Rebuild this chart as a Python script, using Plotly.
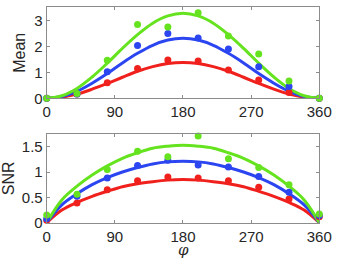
import plotly.graph_objects as go

# Measured angles (degrees)
phi_pts = [0, 40, 80, 120, 160, 200, 240, 280, 320, 360]

# Mean panel: data points
mean_red = [0.0, 0.17, 0.60, 1.15, 1.47, 1.43, 1.09, 0.70, 0.22, 0.0]
mean_blue = [0.0, 0.17, 1.02, 2.03, 2.49, 2.32, 1.90, 1.21, 0.45, 0.0]
mean_green = [0.0, 0.18, 1.46, 2.84, 2.74, 3.29, 2.40, 1.70, 0.67, 0.0]

# SNR panel: data points
snr_red = [0.05, 0.39, 0.65, 0.83, 0.90, 0.88, 0.83, 0.70, 0.47, 0.12]
snr_blue = [0.08, 0.52, 0.88, 1.13, 1.23, 1.14, 1.10, 0.91, 0.60, 0.14]
snr_green = [0.15, 0.56, 1.05, 1.41, 1.30, 1.71, 1.26, 1.09, 0.75, 0.17]

# Fitted curves
phi_fit = [0, 20, 40, 60, 80, 100, 120, 140, 160, 180, 200, 220, 240, 260, 280, 300, 320, 340, 360]
fit_mean_green = [0, 0.10, 0.38, 0.82, 1.35, 1.92, 2.45, 2.89, 3.17, 3.27, 3.17, 2.89, 2.45, 1.92, 1.35, 0.82, 0.38, 0.10, 0]
fit_mean_blue = [0, 0.07, 0.27, 0.58, 0.95, 1.36, 1.73, 2.04, 2.24, 2.31, 2.24, 2.04, 1.73, 1.36, 0.95, 0.58, 0.27, 0.07, 0]
fit_mean_red = [0, 0.04, 0.16, 0.35, 0.57, 0.81, 1.04, 1.22, 1.34, 1.38, 1.34, 1.22, 1.04, 0.81, 0.57, 0.35, 0.16, 0.04, 0]
fit_snr_green = [0, 0.45, 0.72, 0.94, 1.12, 1.27, 1.38, 1.47, 1.51, 1.53, 1.51, 1.47, 1.38, 1.27, 1.12, 0.94, 0.72, 0.45, 0]
fit_snr_blue = [0, 0.35, 0.57, 0.75, 0.89, 1.00, 1.09, 1.16, 1.20, 1.21, 1.20, 1.16, 1.09, 1.00, 0.89, 0.75, 0.57, 0.35, 0]
fit_snr_red = [0, 0.25, 0.40, 0.52, 0.62, 0.71, 0.77, 0.81, 0.84, 0.85, 0.84, 0.81, 0.77, 0.71, 0.62, 0.52, 0.40, 0.25, 0]

x_ticks = [0, 90, 180, 270, 360]

RED = "#f0201c"
BLUE = "#2b45f0"
GREEN = "#66e31f"
TXT = "#262626"
AX = "#8c8c8c"

fig = go.Figure()

panels = [
    ("x", "y", [(fit_mean_red, mean_red, RED), (fit_mean_blue, mean_blue, BLUE), (fit_mean_green, mean_green, GREEN)]),
    ("x2", "y2", [(fit_snr_red, snr_red, RED), (fit_snr_blue, snr_blue, BLUE), (fit_snr_green, snr_green, GREEN)]),
]

for xa, ya, series in panels:
    for fit, pts, col in series:
        fig.add_trace(go.Scatter(x=phi_fit, y=fit, mode="lines", line=dict(color=col, width=3, shape="spline"),
                                 xaxis=xa, yaxis=ya, showlegend=False, hoverinfo="skip", cliponaxis=False))
    for fit, pts, col in series:
        fig.add_trace(go.Scatter(x=phi_pts, y=pts, mode="markers", marker=dict(color=col, size=7),
                                 xaxis=xa, yaxis=ya, showlegend=False, cliponaxis=False))

font = dict(family="Liberation Sans, Arial, sans-serif", size=15, color=TXT)
axis_common = dict(showline=True, linecolor=AX, linewidth=1, mirror="ticks", ticks="inside",
                   ticklen=3, tickcolor=AX, showgrid=False, zeroline=False, tickfont=font,
                   automargin=False)

fig.update_layout(
    width=353, height=261,
    margin=dict(l=0, r=0, t=0, b=0),
    paper_bgcolor="white", plot_bgcolor="white",
    font=font,
    xaxis=dict(domain=[0.1323, 0.9045], range=[0, 360], tickvals=x_ticks, anchor="y", **axis_common),
    yaxis=dict(domain=[0.6234, 0.972], range=[0, 3.5], tickvals=[0, 1, 2, 3], anchor="x",
               title=dict(text="Mean", font=dict(size=16, color=TXT), standoff=4), **axis_common),
    xaxis2=dict(domain=[0.1323, 0.9045], range=[0, 360], tickvals=x_ticks, anchor="y2", **axis_common),
    yaxis2=dict(domain=[0.1467, 0.4866], range=[0, 1.75], tickvals=[0, 0.5, 1, 1.5], anchor="x2",
                title=dict(text="SNR", font=dict(size=16, color=TXT), standoff=4), **axis_common),
    annotations=[dict(text="<i>φ</i>", x=0.5185, xref="paper", y=0, yref="paper",
                      xanchor="center", yanchor="bottom", yshift=0, showarrow=False,
                      font=dict(family="DejaVu Serif", size=15, color=TXT))],
)

fig.write_html("out.html", config={"displayModeBar": False},
               post_script="document.body.style.margin='0';document.body.style.padding='0';")
